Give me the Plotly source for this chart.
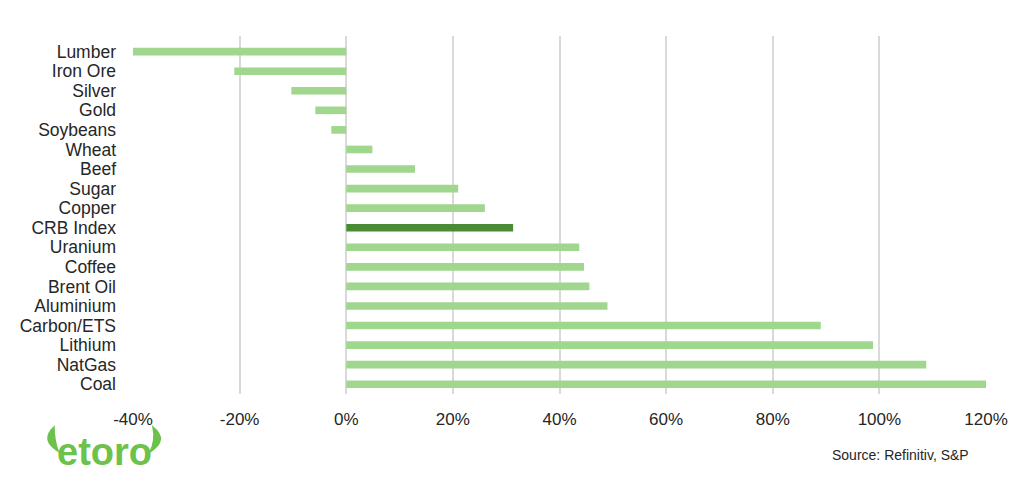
import plotly.graph_objects as go

categories = ["Lumber", "Iron Ore", "Silver", "Gold", "Soybeans", "Wheat", "Beef", "Sugar",
              "Copper", "CRB Index", "Uranium", "Coffee", "Brent Oil", "Aluminium",
              "Carbon/ETS", "Lithium", "NatGas", "Coal"]
values = [-40.0, -21.0, -10.3, -5.8, -2.8, 4.9, 12.9, 21.0,
          26.0, 31.3, 43.7, 44.6, 45.6, 49.0,
          89.0, 98.8, 108.8, 120.0]
tick_vals = [-40, -20, 0, 20, 40, 60, 80, 100, 120]
tick_text = ["-40%", "-20%", "0%", "20%", "40%", "60%", "80%", "100%", "120%"]

light = "#a1d68f"
dark = "#4a8c36"
colors = [dark if c == "CRB Index" else light for c in categories]

fig = go.Figure(go.Bar(
    x=values, y=categories, orientation="h",
    marker=dict(color=colors, line=dict(width=0)),
    width=0.39,
))

# page body has an 8px margin; plot area on screen: x 133..986, y 36..394
fig.update_layout(
    width=1024, height=496,
    margin=dict(l=125, r=46, t=28, b=110, autoexpand=False),
    paper_bgcolor="white", plot_bgcolor="white",
    font=dict(family="Liberation Sans, Arial, sans-serif", size=17, color="#262626"),
    showlegend=False,
)
fig.update_xaxes(
    range=[-40, 120], tickvals=tick_vals, ticktext=tick_text,
    showgrid=True, gridcolor="#d9d9d9", gridwidth=1.5,
    zeroline=True, zerolinecolor="#d9d9d9", zerolinewidth=1.5,
    showline=False, ticks="", ticklabelstandoff=13,
    tickfont=dict(size=17), automargin=False,
)
fig.update_yaxes(
    categoryorder="array", categoryarray=categories,
    tickmode="array", tickvals=categories, ticktext=categories,
    range=[len(categories) - 0.5, -0.8],
    showgrid=False, showline=False, ticks="", ticklabelstandoff=16,
    tickfont=dict(size=17.5), automargin=False,
)

PW, PH = 986 - 133, 394 - 36


def px(x, y):
    return (x - 133) / PW, (394 - y) / PH


# Source note
sx, sy = px(971, 455)
fig.add_annotation(
    text="Source: Refinitiv, S&P", xref="paper", yref="paper",
    x=sx, y=sy, xanchor="right", yanchor="middle", showarrow=False,
    font=dict(size=14, color="#262626"),
)

# etoro logo (text + horns)
logo_green = "#6cc24a"
lx, ly = px(104, 452)
fig.add_annotation(
    text="<b>etoro</b>", xref="paper", yref="paper",
    x=lx, y=ly, xanchor="center", yanchor="middle", showarrow=False,
    font=dict(size=38, color=logo_green, family="Liberation Sans, Arial, sans-serif"),
)


def horn(pts):
    (a, b), (c, d), (e, f), (g, h) = [px(*p) for p in pts]
    return f"M {a},{b} Q {c},{d} {e},{f} Q {g},{h} {a},{b} Z"


fig.add_shape(type="path", xref="paper", yref="paper",
              path=horn([(54, 427), (40, 440), (58, 451), (54, 440)]),
              fillcolor=logo_green, line=dict(color=logo_green, width=1.5))
fig.add_shape(type="path", xref="paper", yref="paper",
              path=horn([(153, 427), (169, 440), (150, 452), (156, 440)]),
              fillcolor=logo_green, line=dict(color=logo_green, width=1.5))

fig.write_html("out.html")
